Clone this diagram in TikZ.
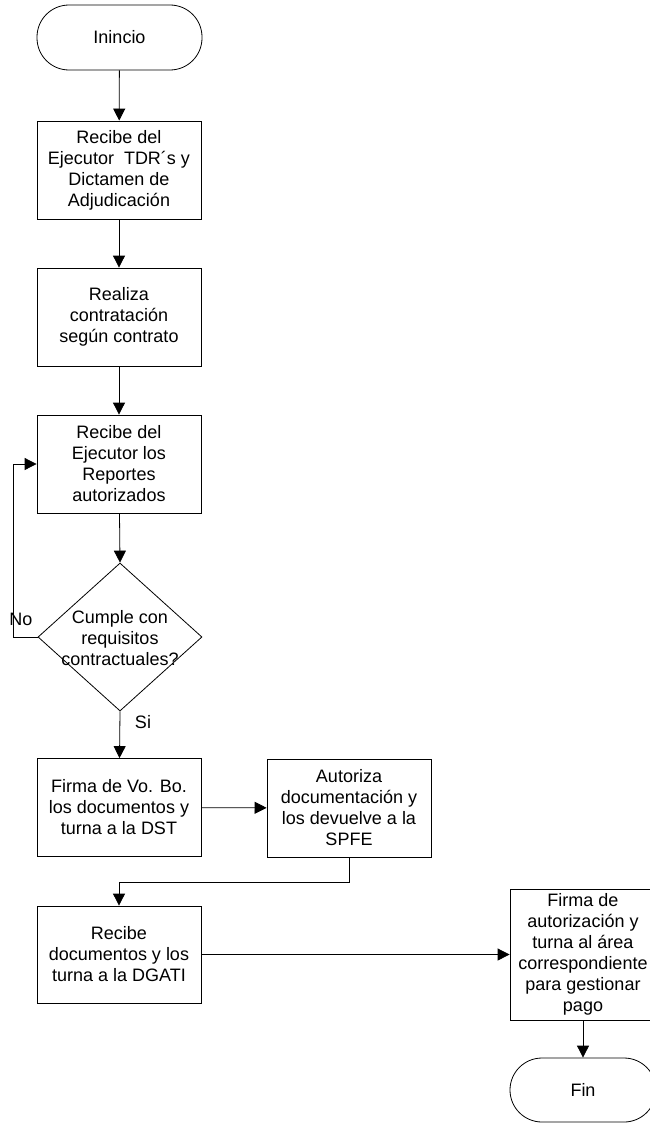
\documentclass[tikz,border=0pt]{standalone}
\usepackage{fontspec}
\setmainfont{Liberation Sans}
\usetikzlibrary{arrows.meta,shapes.geometric}
\begin{document}
\begin{tikzpicture}[x=1pt,y=-1pt,
  every node/.style={font=\fontsize{18}{21}\selectfont, align=center, inner sep=0pt},
  proc/.style={draw, line width=0.8pt, minimum width=164pt, minimum height=98pt},
  term/.style={draw, line width=0.8pt, rounded corners=32pt, minimum width=165pt, minimum height=65pt},
  arr/.style={line width=0.8pt, -{Triangle[length=12pt,width=12pt]}},
  ln/.style={line width=0.8pt}]
\useasboundingbox (0,0) rectangle (650,1124);
\fill[white] (0,0) rectangle (650,1124);

\node[term] (start) at (119.5,37.5) {Inincio};
\node[proc] (b1) at (119,170) {Recibe del\\Ejecutor~ TDR´s y\\Dictamen de\\Adjudicación};
\node[proc] (b2) at (119,317) {Realiza\\contratación\\según contrato};
\node[proc] (b3) at (119,464) {Recibe del\\Ejecutor los\\Reportes\\autorizados};
\node[diamond, draw, line width=0.8pt, minimum width=164pt, minimum height=148pt] (d) at (120,637) {};
\node (dt) at (120,638) {Cumple con\\requisitos\\contractuales?};
\node (no) at (21,619) {No};
\node (si) at (143,722) {Si};
\node[proc] (f1) at (119,807.5) {Firma de Vo. Bo.\\los documentos y\\turna a la DST};
\node[proc] (f2) at (349,808) {Autoriza\\documentación y\\los devuelve a la\\SPFE};
\node[proc, minimum height=97pt] (r) at (119,954.5) {Recibe\\documentos y los\\turna a la DGATI};
\node[proc, minimum width=146pt, minimum height=131pt] (p) at (583,954.5) {Firma de\\autorización y\\turna al área\\correspondiente\\para gestionar\\pago};
\node[term, minimum width=146pt, minimum height=64pt] (fin) at (583,1090) {Fin};

\coordinate (l1) at (13,637);
\coordinate (l2) at (13,464);
\coordinate (c1) at (349,882);
\coordinate (c2) at (119,882);

\draw[arr] (start) -- (b1);
\draw[arr] (b1) -- (b2);
\draw[arr] (b2) -- (b3);
\draw[arr] (b3) -- (d.north);
\draw[arr] (d.west) -- (l1) -- (l2) -- (b3.west);
\draw[arr] (d.south) -- (f1);
\draw[arr] (f1) -- (f2);
\draw[arr] (f2.south) -- (c1) -- (c2) -- (r.north);
\draw[arr] (r) -- (p);
\draw[arr] (p) -- (fin);
\end{tikzpicture}
\end{document}
